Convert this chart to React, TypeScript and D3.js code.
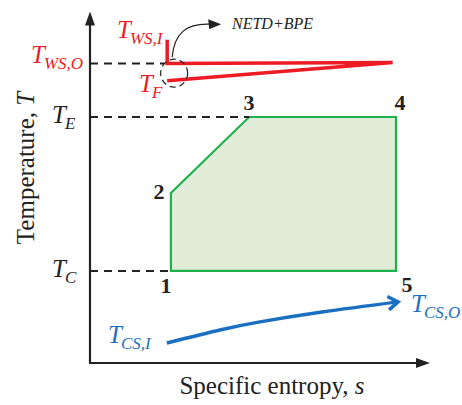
import React from "react";
import * as d3 from "d3";

// Cycle state points (entropy s, temperature T), arbitrary units
const cycleLabels = ["1", "2", "3", "4", "5"];
const cycleS = [2.38, 2.38, 4.68, 9.0, 9.0];
const cycleT = [2.62, 4.84, 7.0, 7.0, 2.62];

// Reference temperature levels
const levelT = [8.52, 7.0, 2.62];

// Heat source (red) path: inlet drop, outlet line, fluid line
const sourceS = [2.27, 2.27, 8.9, 2.27];
const sourceT = [9.2, 8.52, 8.55, 8.03];

// Cooling stream (blue) curve
const sinkS = [2.26, 3.82, 5.0, 6.82, 9.06];
const sinkT = [0.57, 0.94, 1.17, 1.45, 1.74];

const W = 462;
const H = 405;
const RED = "#ed1c24";
const BLUE = "#1b6fc0";
const GREEN = "#1fb14c";
const FILL = "#e1edd8";
const serif = "'Liberation Serif', 'Times New Roman', serif";

const x = d3.scaleLinear().domain([0, 10]).range([90, 430]);
const y = d3.scaleLinear().domain([0, 10]).range([363, 11.6]);

function Sub({ tx, ty, main, sub, color }: any) {
  return (
    <text x={tx} y={ty} fill={color} style={{ fontFamily: serif }} fontStyle="italic" fontSize={25}>
      {main}
      <tspan fontSize={17} dx={-1} dy={6}>{sub}</tspan>
    </text>
  );
}

export default function App() {
  const cyclePts: [number, number][] = cycleS.map((s, i) => [x(s), y(cycleT[i])]);
  const polygon = d3.line()(cyclePts) + "Z";

  const srcPts: [number, number][] = sourceS.map((s, i) => [x(s), y(sourceT[i])]);
  const srcPath = d3.line()(srcPts) || "";

  const sinkPts: [number, number][] = sinkS.map((s, i) => [x(s), y(sinkT[i])]);
  const sinkPath = d3.line().curve(d3.curveNatural)(sinkPts) || "";
  const end = sinkPts[sinkPts.length - 1];
  const prev = sinkPts[sinkPts.length - 2];
  const ang = Math.atan2(end[1] - prev[1], end[0] - prev[0]);
  const ah = 12;
  const chevron = `M${end[0] - ah * Math.cos(ang - 0.6)},${end[1] - ah * Math.sin(ang - 0.6)}L${end[0]},${end[1]}L${end[0] - ah * Math.cos(ang + 0.6)},${end[1] - ah * Math.sin(ang + 0.6)}`;

  const axX = x(0);
  const axY = y(0);

  // Dashed guide lines: each ends at its matching state point
  const dashEnds = [x(sourceS[1]) - 3, x(cycleS[2]), x(cycleS[0])];

  // Circle marking the temperature pinch at the source inlet
  const cx = x(sourceS[1]) + 7;
  const cy = (y(sourceT[1]) + y(sourceT[3])) / 2 + 1;

  return (
    <svg width={W} height={H} style={{ position: "absolute", left: 0, top: 0 }}>
      <rect width={W} height={H} fill="#fff" />

      {/* cycle */}
      <path d={polygon} fill={FILL} stroke={GREEN} strokeWidth={2.2} />

      {/* dashed level lines */}
      {levelT.map((t, i) => (
        <line key={i} x1={axX} x2={dashEnds[i]} y1={y(t)} y2={y(t)} stroke="#222" strokeWidth={2} strokeDasharray="8,6" />
      ))}

      {/* axes */}
      <line x1={axX} x2={axX} y1={axY} y2={y(10) + 10} stroke="#222" strokeWidth={2.2} />
      <path d={`M${axX},${y(10)}L${axX - 5},${y(10) + 14}L${axX + 5},${y(10) + 14}Z`} fill="#222" />
      <line x1={axX - 1} x2={x(10) - 10} y1={axY} y2={axY} stroke="#222" strokeWidth={2.2} />
      <path d={`M${x(10)},${axY}L${x(10) - 14},${axY - 5}L${x(10) - 14},${axY + 5}Z`} fill="#222" />

      {/* heat source */}
      <path d={srcPath} fill="none" stroke={RED} strokeWidth={3.5} strokeLinejoin="miter" />

      {/* pinch marker + annotation */}
      <ellipse cx={cx} cy={cy} rx={13.5} ry={14} fill="none" stroke="#222" strokeWidth={1.2} strokeDasharray="6,4" />
      <path d={`M${cx - 2},${cy - 16} C${cx},${cy - 40} ${cx + 12},${cy - 50} ${cx + 36},${cy - 49}`} fill="none" stroke="#222" strokeWidth={1.2} />
      <path d={`M${cx + 47},${cy - 49}L${cx + 34},${cy - 54}L${cx + 35},${cy - 44}Z`} fill="#222" />
      <text x={232} y={29} style={{ fontFamily: serif }} fontStyle="italic" fontSize={16} fill="#222">NETD+BPE</text>

      {/* cooling stream */}
      <path d={sinkPath} fill="none" stroke={BLUE} strokeWidth={3.5} />
      <path d={chevron} fill="none" stroke={BLUE} strokeWidth={3.5} strokeLinejoin="miter" />

      {/* state labels */}
      {cycleLabels.map((l, i) => {
        const offs = [[-5, 22], [-12, 6], [0, -7], [4, -7], [11, 21]][i];
        return (
          <text key={l} x={cyclePts[i][0] + offs[0]} y={cyclePts[i][1] + offs[1]} textAnchor="middle" style={{ fontFamily: serif }} fontWeight="bold" fontSize={22} fill="#222">{l}</text>
        );
      })}

      {/* temperature labels */}
      <Sub tx={117} ty={38} main="T" sub="WS,I" color={RED} />
      <Sub tx={31} ty={63} main="T" sub="WS,O" color={RED} />
      <Sub tx={139} ty={92} main="T" sub="F" color={RED} />
      <Sub tx={52} ty={y(levelT[1]) + 6} main="T" sub="E" color="#222" />
      <Sub tx={52} ty={y(levelT[2]) + 6} main="T" sub="C" color="#222" />
      <Sub tx={411} ty={312} main="T" sub="CS,O" color={BLUE} />
      <Sub tx={108} ty={343} main="T" sub="CS,I" color={BLUE} />

      {/* axis titles */}
      <text x={272} y={394} textAnchor="middle" style={{ fontFamily: serif }} fontSize={25} fill="#222">
        Specific entropy, <tspan fontStyle="italic">s</tspan>
      </text>
      <text transform={`translate(34,168) rotate(-90)`} textAnchor="middle" style={{ fontFamily: serif }} fontSize={25} fill="#222">
        Temperature, <tspan fontStyle="italic">T</tspan>
      </text>
    </svg>
  );
}
